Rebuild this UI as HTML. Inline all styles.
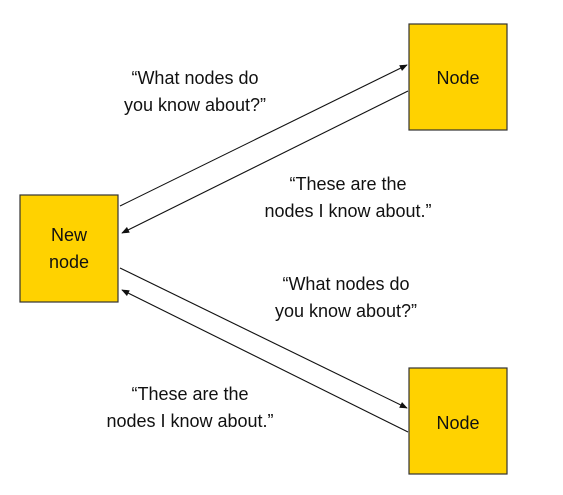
<!DOCTYPE html>
<html><head><style>
html,body{margin:0;padding:0;background:#fff;}
svg text{font-family:"Liberation Sans",Arial,sans-serif;font-size:18px;fill:#111;}
</style></head><body>
<svg width="563" height="490" viewBox="0 0 563 490" xmlns="http://www.w3.org/2000/svg">
<defs>
<marker id="a" viewBox="0 0 10 10" refX="9" refY="5" markerWidth="8" markerHeight="8" markerUnits="userSpaceOnUse" orient="auto"><path d="M0,1 L10,5 L0,9 z" fill="#111"/></marker>
</defs>
<rect x="409" y="24" width="98" height="106" fill="#FFD200" stroke="#333" stroke-width="1.2"/>
<rect x="20" y="195" width="98" height="107" fill="#FFD200" stroke="#333" stroke-width="1.2"/>
<rect x="409" y="368" width="98" height="106" fill="#FFD200" stroke="#333" stroke-width="1.2"/>
<g stroke="#111" stroke-width="1.1" fill="none" marker-end="url(#a)">
<line x1="120" y1="206" x2="407" y2="65"/>
<line x1="408" y1="91" x2="122" y2="233"/>
<line x1="120" y1="268" x2="407" y2="408"/>
<line x1="408" y1="432" x2="122" y2="290"/>
</g>
<g text-anchor="middle">
<text x="458" y="84">Node</text>
<text x="458" y="429">Node</text>
<text x="69" y="241">New</text>
<text x="69" y="268">node</text>
<text x="195" y="84">“What nodes do</text>
<text x="195" y="111">you know about?”</text>
<text x="348" y="190">“These are the</text>
<text x="348" y="217">nodes I know about.”</text>
<text x="346" y="290">“What nodes do</text>
<text x="346" y="317">you know about?”</text>
<text x="190" y="400">“These are the</text>
<text x="190" y="427">nodes I know about.”</text>
</g>
</svg>
</body></html>
